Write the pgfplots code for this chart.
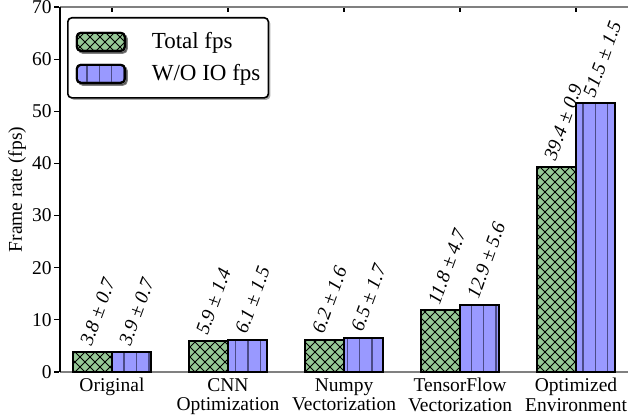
\documentclass[border=0pt]{standalone}
\usepackage{fontspec}
\setmainfont{Liberation Serif}
\usepackage{pgfplots}
\pgfplotsset{compat=1.18}
\usetikzlibrary{patterns,shadows}

\definecolor{mygreen}{RGB}{150,200,150}
\definecolor{myblue}{RGB}{153,153,255}
\definecolor{hatchblue}{RGB}{75,75,135}

\pgfdeclarepatternformonly{mycross}{\pgfqpoint{-0.5pt}{-0.5pt}}{\pgfqpoint{5.5pt}{5.5pt}}{\pgfqpoint{5pt}{5pt}}{%
  \pgfsetlinewidth{0.5pt}%
  \pgfpathmoveto{\pgfqpoint{-0.2pt}{-0.2pt}}\pgfpathlineto{\pgfqpoint{5.2pt}{5.2pt}}%
  \pgfpathmoveto{\pgfqpoint{-0.2pt}{5.2pt}}\pgfpathlineto{\pgfqpoint{5.2pt}{-0.2pt}}%
  \pgfusepath{stroke}}
\pgfdeclarepatternformonly{myvert}{\pgfqpoint{-1pt}{-0.5pt}}{\pgfqpoint{1pt}{6.7pt}}{\pgfqpoint{6.2pt}{6.2pt}}{%
  \pgfsetlinewidth{0.7pt}%
  \pgfpathmoveto{\pgfqpoint{0pt}{-0.3pt}}\pgfpathlineto{\pgfqpoint{0pt}{6.5pt}}%
  \pgfusepath{stroke}}

\newcommand{\tickfont}{\fontsize{9.75}{9.6}\selectfont}
\newcommand{\legfont}{\fontsize{11.5}{13}\selectfont}

\begin{document}
\begin{tikzpicture}
\begin{axis}[
  scale only axis, width=284pt, height=182.5pt,
  xmin=-0.448, xmax=4.448, ymin=0, ymax=70,
  ybar=0pt, bar width=19.5pt,
  axis x line=box, axis y line=left,
  x axis line style={color=gray, line width=0.8pt},
  y axis line style={-, black, line width=0.8pt},
  tick align=inside,
  major tick length=2.5pt,
  tick style={black, line width=0.6pt},
  y tick style={xshift=-3pt},
  xtick={0,1,2,3,4},
  xtick pos=upper, xticklabel pos=lower,
  xticklabels={Original, {CNN\\Optimization}, {Numpy\\Vectorization}, {TensorFlow\\Vectorization}, {Optimized\\Environment}},
  x tick label style={font=\tickfont, align=center, inner sep=0pt, anchor=north, yshift=-3pt},
  ytick={0,10,...,70},
  y tick label style={font=\tickfont, inner sep=0pt, anchor=east, xshift=-4pt},
  /pgf/number format/assume math mode=true,
  ylabel={Frame rate (fps)},
  every axis y label/.style={at={(rel axis cs:0,0.5)}, xshift=-21.5pt, rotate=90, anchor=center, font=\tickfont},
  point meta=explicit symbolic,
  nodes near coords,
  nodes near coords style={anchor=south west, yshift=2pt, rotate=70, inner sep=0pt, font=\fontsize{9.75}{10}\selectfont\itshape},
  legend image code/.code={\draw[#1] (0pt,-4.5pt) rectangle (24pt,4.5pt); \pgfpathmoveto{\pgfqpoint{37.5pt}{0pt}}\pgfusepath{discard}},
  legend cell align=left,
  legend style={at={(rel axis cs:0,1)}, xshift=3.5pt, yshift=-5pt, anchor=north west,
    draw=black, line width=0.8pt, rounded corners=2pt, fill=white,
    drop shadow={shadow xshift=1pt, shadow yshift=-1pt, fill=black!65},
    font=\legfont, inner xsep=4pt, inner ysep=7pt, row sep=6pt,
    nodes={inner sep=0pt}},
]
\addplot[draw=black, line width=1pt, preaction={fill=mygreen}, pattern=mycross, pattern color=black]
  coordinates {(0,3.8)[3.8 ± 0.7] (1,5.9)[5.9 ± 1.4] (2,6.2)[6.2 ± 1.6] (3,11.8)[11.8 ± 4.7] (4,39.4)[39.4 ± 0.9]};
\addplot[draw=black, line width=1pt, preaction={fill=myblue}, pattern=myvert, pattern color=hatchblue]
  coordinates {(0,3.9)[3.9 ± 0.7] (1,6.1)[6.1 ± 1.5] (2,6.5)[6.5 ± 1.7] (3,12.9)[12.9 ± 5.6] (4,51.5)[51.5 ± 1.5]};
\legend{Total fps, W/O IO fps}
\end{axis}
\pgfresetboundingbox
\path ([shift={(-30pt,-22.5pt)}]current axis.south west) rectangle ([shift={(0.5pt,3.5pt)}]current axis.north east);
\end{tikzpicture}
\end{document}
